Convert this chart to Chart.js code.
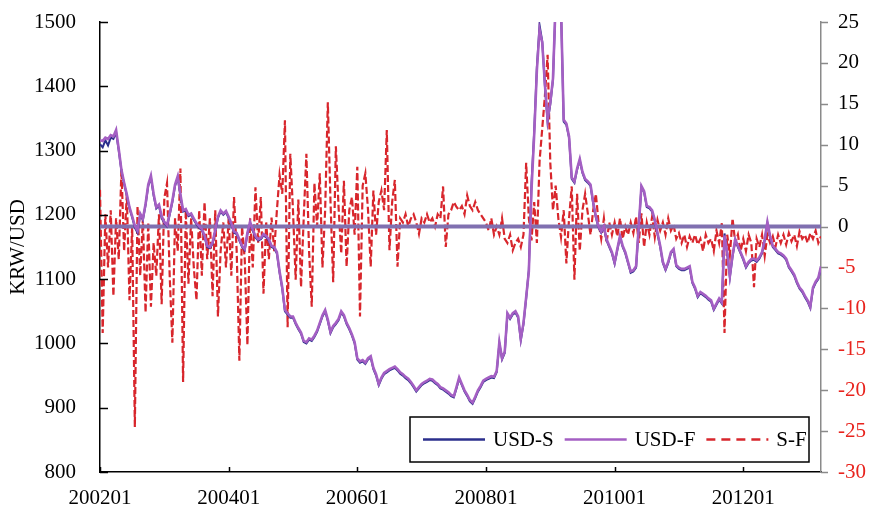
<!DOCTYPE html>
<html>
<head>
<meta charset="utf-8">
<script src="https://cdn.jsdelivr.net/npm/chart.js@4.4.0/dist/chart.umd.min.js"></script>
<style>
  html, body { margin: 0; padding: 0; background: #fff; }
  #wrap { width: 872px; height: 507px; position: relative; }
</style>
</head>
<body>
<div id="wrap"><canvas id="chart"></canvas></div>
<script>
// half-monthly observations, 2002-01 .. 2013-03
const xTickLabels = ["200201", "200401", "200601", "200801", "201001", "201201"]
const monthsPerTick = 24

const usdS = [
    1310, 1305, 1316, 1308, 1320, 1318, 1328, 1300, 1268, 1248, 1230, 1210, 1196, 1180, 1172, 1200, 1192, 1215, 1245, 1258, 1230, 1210, 1214, 1195,
    1187, 1182, 1200, 1220, 1245, 1258, 1230, 1205, 1207, 1198, 1200, 1192, 1185, 1180, 1176, 1166, 1150, 1148, 1155, 1175, 1195, 1205, 1200, 1204,
    1195, 1185, 1172, 1170, 1160, 1150, 1145, 1170, 1187, 1175, 1165, 1160, 1162, 1168, 1165, 1160, 1150, 1148, 1140, 1110, 1085, 1050, 1045, 1040,
    1040, 1030, 1022, 1015, 1002, 1000, 1006, 1004, 1010, 1018, 1030, 1042, 1050, 1035, 1016, 1025, 1030, 1036, 1048, 1042, 1030, 1022, 1012, 1000,
    975, 970, 972, 968, 975, 978, 960, 950, 935, 945, 952, 955, 958, 960, 962, 958, 953, 950, 946, 943, 938, 932, 925, 930,
    935, 938, 940, 943, 942, 938, 935, 930, 928, 925, 922, 918, 916, 930, 945, 935, 925, 918, 910, 906, 915, 925, 932, 940,
    943, 945, 947, 946, 955, 1000, 975, 985, 1045, 1038, 1045, 1048, 1040, 1005, 1030, 1070, 1115, 1250, 1330, 1430, 1495, 1470, 1400, 1345,
    1372, 1410, 1530, 1570, 1520, 1345, 1340, 1320, 1256, 1250, 1270, 1285, 1265, 1254, 1250, 1245, 1218, 1196, 1180, 1172, 1180, 1160, 1150, 1140,
    1124, 1145, 1165, 1150, 1140, 1125, 1110, 1112, 1118, 1180, 1243, 1235, 1212, 1210, 1205, 1190, 1170, 1150, 1125, 1114, 1125, 1140, 1145, 1120,
    1116, 1114, 1114, 1116, 1118, 1094, 1085, 1072, 1078, 1075, 1072, 1068, 1065, 1052, 1060, 1068, 1062, 1171, 1140, 1103, 1135, 1160, 1150, 1140,
    1130, 1118, 1125, 1129, 1130, 1127, 1132, 1140, 1160, 1187, 1165, 1150, 1145, 1140, 1138, 1135, 1130, 1118, 1112, 1105, 1094, 1085, 1080, 1072,
    1065, 1055, 1085, 1094, 1100, 1118
]

const usdF = [
    1316, 1315, 1320, 1318, 1324, 1322, 1332, 1302, 1270, 1250, 1232, 1212, 1198, 1183, 1175, 1202, 1194, 1217, 1247, 1261, 1233, 1212, 1216, 1198,
    1189, 1184, 1202, 1222, 1247, 1260, 1232, 1207, 1209, 1200, 1202, 1194, 1187, 1182, 1178, 1168, 1152, 1150, 1157, 1177, 1197, 1207, 1202, 1206,
    1197, 1187, 1174, 1172, 1162, 1152, 1147, 1172, 1189, 1177, 1167, 1162, 1164, 1170, 1167, 1162, 1152, 1150, 1142, 1112, 1087, 1052, 1047, 1042,
    1042, 1032, 1024, 1017, 1004, 1002, 1008, 1006, 1012, 1020, 1032, 1044, 1052, 1037, 1018, 1027, 1032, 1038, 1050, 1044, 1032, 1024, 1014, 1002,
    977, 972, 974, 970, 977, 980, 962, 952, 937, 947, 954, 957, 960, 962, 964, 960, 955, 952, 948, 945, 940, 934, 927, 932,
    937, 940, 942, 945, 944, 940, 937, 932, 930, 927, 924, 920, 918, 932, 947, 937, 927, 920, 912, 908, 917, 927, 934, 942,
    945, 947, 949, 948, 957, 1002, 977, 987, 1047, 1040, 1047, 1050, 1042, 1007, 1032, 1072, 1112, 1240, 1325, 1425, 1488, 1468, 1402, 1348,
    1375, 1412, 1532, 1572, 1522, 1348, 1342, 1322, 1258, 1252, 1272, 1287, 1267, 1256, 1252, 1247, 1220, 1198, 1182, 1174, 1182, 1162, 1152, 1142,
    1126, 1147, 1167, 1152, 1142, 1127, 1112, 1114, 1120, 1182, 1245, 1237, 1214, 1212, 1207, 1192, 1172, 1152, 1127, 1116, 1127, 1142, 1147, 1122,
    1118, 1116, 1116, 1118, 1120, 1096, 1087, 1074, 1080, 1077, 1074, 1070, 1067, 1054, 1062, 1070, 1064, 1168, 1142, 1105, 1137, 1162, 1152, 1142,
    1132, 1120, 1127, 1131, 1132, 1129, 1134, 1142, 1162, 1189, 1167, 1152, 1147, 1142, 1140, 1137, 1132, 1120, 1114, 1107, 1096, 1087, 1082, 1074,
    1067, 1057, 1087, 1096, 1102, 1120
]

// spot minus forward (right axis)
const sf = [
    4.5, -13, 1.5, -5, 2, -8.5, 1, -4, 7, -3, 4, -9, 0, -24.5, 2.5, -6, 1, -10.5, 0.5, -9.8, -2, -6, 1.5, -9.5,
    3.5, 5.3, -6, -14.2, 1, -3, 7.1, -19, 2, -7, 1, -5, -9, 2, -6, 3, -4, 1, -8.5, 2, -11, -3, 0.5, -5,
    1, -6, 3.6, -3, -16.4, 0, -4, -14.5, 1, -5, 4.8, -2, 3.6, -8.2, 0.5, -4, 1.1, -3, 2, 6.3, 4, 13, -12.3, 8.9,
    2, -6.5, 3.3, -7.4, 1, 8.9, -3, -9.8, 5.3, 0, 6.5, -5, 2, 15.2, 3, -6.8, 9.8, 2.4, -3.3, 5.6, -4.9, 2, 3.6, -1,
    7.3, -11, 5, 6.5, 2, -4.9, 4.4, -1, 3, 4.4, 2, 11.8, -2.9, 3, 5.7, -4.9, 1, 0.5, 1.5, 0, 1, 1.5, 0.5, -0.9,
    1, 0.5, 1.5, 0.5, 1, 0, 1.5, 1, 4.9, -2.5, 1.5, 2, 3, 2.4, 2, 2.5, 1.5, 3.8, 2.5, 2, 3, 2, 1.5, 1,
    0.5, -0.5, 1, -1, 0, -1, 1, -1.5, -2, -1, -2.9, -2, -1.5, -2.5, -1, 7.8, 1, -1.7, 3, -2, 8, 12, 16, 21,
    7.8, 2, 5, 1, -1.3, 2, -4.5, 1, 4.9, -6.5, 4, -3, 2, 4, 1.6, -1, 2, 4, 0.5, -1.5, 1, -2, 0.5, -1,
    0.5, -1.2, 1, -1.5, 0, -1, 0.5, -0.8, 1.2, -2, 1.6, -2.5, 0.5, -1, 1.2, -1.3, 0.8, -0.5, 0.5, -1, 1, -0.5, 0.2, -1.5,
    -0.8, -2, -1, -2.5, -1.2, -2, -1, -2.2, -1.5, -3, -1, -2, -1.5, -3, -0.5, -2, 0.4, -13, -1, -3.5, 1, -2, -1, -3,
    -1.5, -3, -1, -2, -7.4, -1.5, -2.5, -1, -3.6, -1, -2, -1.2, -2.5, -1, -2, -1, -2.2, -0.8, -1.8, -1, -2.4, -0.6, -1.5, -1,
    -2, -0.8, -1.5, -0.5, -2, -1.2
]

const FONT = "'Liberation Serif', 'Times New Roman', serif"
const lastX = (sf.length - 1) / 2

// x = months since 200201
const toPoints = (arr) => arr.map((v, i) => ({ x: i / 2, y: v }))

// keep the plot box fixed: no extra room for half labels
const fixScale = (size) => (s) => {
    if (s.isHorizontal()) s.height = size
    else s.width = size
    s.paddingTop = 0
    s.paddingBottom = 0
    s.paddingLeft = 0
    s.paddingRight = 0
}

// small inward/outward tick marks like the original
const tickMarks = {
    id: "tickMarks",
    afterDraw(chart) {
        const { ctx, chartArea, scales } = chart
        ctx.save()
        ctx.lineWidth = 1.5
        ctx.strokeStyle = "#000"
        scales.y.ticks.forEach((t) => {
            const y = Math.round(scales.y.getPixelForValue(t.value)) + 0.5
            ctx.beginPath()
            ctx.moveTo(chartArea.left, y)
            ctx.lineTo(chartArea.left + 8, y)
            ctx.stroke()
        })
        scales.x.ticks.forEach((t) => {
            const x = Math.round(scales.x.getPixelForValue(t.value)) + 0.5
            ctx.beginPath()
            ctx.moveTo(x, chartArea.bottom)
            ctx.lineTo(x, chartArea.bottom - 5)
            ctx.stroke()
        })
        ctx.strokeStyle = "#8a8a8a"
        scales.y1.ticks.forEach((t) => {
            const y = Math.round(scales.y1.getPixelForValue(t.value)) + 0.5
            ctx.beginPath()
            ctx.moveTo(chartArea.right, y)
            ctx.lineTo(chartArea.right + 7, y)
            ctx.stroke()
        })
        ctx.restore()
    },
}

// boxed legend in the lower right of the plot
const boxLegend = {
    id: "boxLegend",
    afterDraw(chart) {
        const { ctx, chartArea } = chart
        const items = chart.data.datasets.filter((d) => d.showInLegend)
        const w = 399
        const h = 45
        const left = chartArea.right - 12 - w
        const top = chartArea.bottom - 10 - h
        ctx.save()
        ctx.fillStyle = "#fff"
        ctx.fillRect(left, top, w, h)
        ctx.lineWidth = 1.5
        ctx.strokeStyle = "#000"
        ctx.strokeRect(left, top, w, h)
        ctx.font = "21px " + FONT
        ctx.textBaseline = "middle"
        ctx.fillStyle = "#000"
        const cy = top + h / 2
        let x = left + 13
        items.forEach((d) => {
            ctx.beginPath()
            ctx.strokeStyle = d.borderColor
            ctx.lineWidth = 2.5
            ctx.setLineDash(d.borderDash ? [9, 6] : [])
            ctx.moveTo(x, cy)
            ctx.lineTo(x + 62, cy)
            ctx.stroke()
            ctx.setLineDash([])
            x += 70
            ctx.fillText(d.label, x, cy + 1)
            x += ctx.measureText(d.label).width + 11
        })
        ctx.restore()
    },
}

const ctx = document.getElementById("chart").getContext("2d")

new Chart(ctx, {
    type: "line",
    data: {
        datasets: [
            {
                label: "USD-S",
                data: toPoints(usdS),
                borderColor: "#2b2f8c",
                borderWidth: 2,
                yAxisID: "y",
                order: 1,
                showInLegend: true,
            },
            {
                label: "USD-F",
                data: toPoints(usdF),
                borderColor: "#a45fc3",
                borderWidth: 2.6,
                yAxisID: "y",
                order: 0,
                showInLegend: true,
            },
            {
                label: "S-F",
                data: toPoints(sf),
                borderColor: "#d8262c",
                borderWidth: 2.2,
                borderDash: [7, 3],
                yAxisID: "y1",
                order: 3,
                showInLegend: true,
            },
            {
                label: "zero",
                data: [{ x: 0, y: 0 }, { x: lastX, y: 0 }],
                borderColor: "#8070b0",
                borderWidth: 4,
                yAxisID: "y1",
                order: 2,
            },
        ],
    },
    options: {
        responsive: true,
        maintainAspectRatio: false,
        animation: false,
        devicePixelRatio: 1,
        events: [],
        elements: {
            point: { radius: 0 },
            line: { tension: 0 },
        },
        layout: { padding: { top: 22, left: 0, right: 0, bottom: 0 } },
        plugins: {
            legend: { display: false },
            tooltip: { enabled: false },
        },
        scales: {
            x: {
                type: "linear",
                min: 0,
                max: lastX,
                grid: { display: false, drawTicks: false },
                border: { display: true, color: "#000", width: 1.5 },
                ticks: {
                    stepSize: monthsPerTick,
                    includeBounds: false,
                    autoSkip: false,
                    maxRotation: 0,
                    padding: 14,
                    color: "#000",
                    font: { family: FONT, size: 21 },
                    callback: (v) => xTickLabels[v / monthsPerTick] ?? "",
                },
                afterFit: fixScale(35),
            },
            y: {
                position: "left",
                min: 800,
                max: 1500,
                grid: { display: false, drawTicks: false },
                border: { display: true, color: "#000", width: 1.5 },
                ticks: {
                    stepSize: 100,
                    padding: 24,
                    color: "#000",
                    font: { family: FONT, size: 21 },
                    callback: (v) => String(v),
                },
                title: {
                    display: true,
                    text: "KRW/USD",
                    color: "#000",
                    font: { family: FONT, size: 21 },
                    padding: { top: 6, bottom: 0 },
                },
                afterFit: fixScale(100),
            },
            y1: {
                position: "right",
                min: -30,
                max: 25,
                grid: { display: false, drawTicks: false },
                border: { display: true, color: "#8a8a8a", width: 1.5 },
                ticks: {
                    stepSize: 5,
                    padding: 17,
                    crossAlign: "near",
                    color: (c) => (c.tick && c.tick.value < 0 ? "#e8231d" : "#000"),
                    font: { family: FONT, size: 21 },
                    callback: (v) => String(v),
                },
                afterFit: fixScale(51),
            },
        },
    },
    plugins: [tickMarks, boxLegend],
})
</script>
</body>
</html>
